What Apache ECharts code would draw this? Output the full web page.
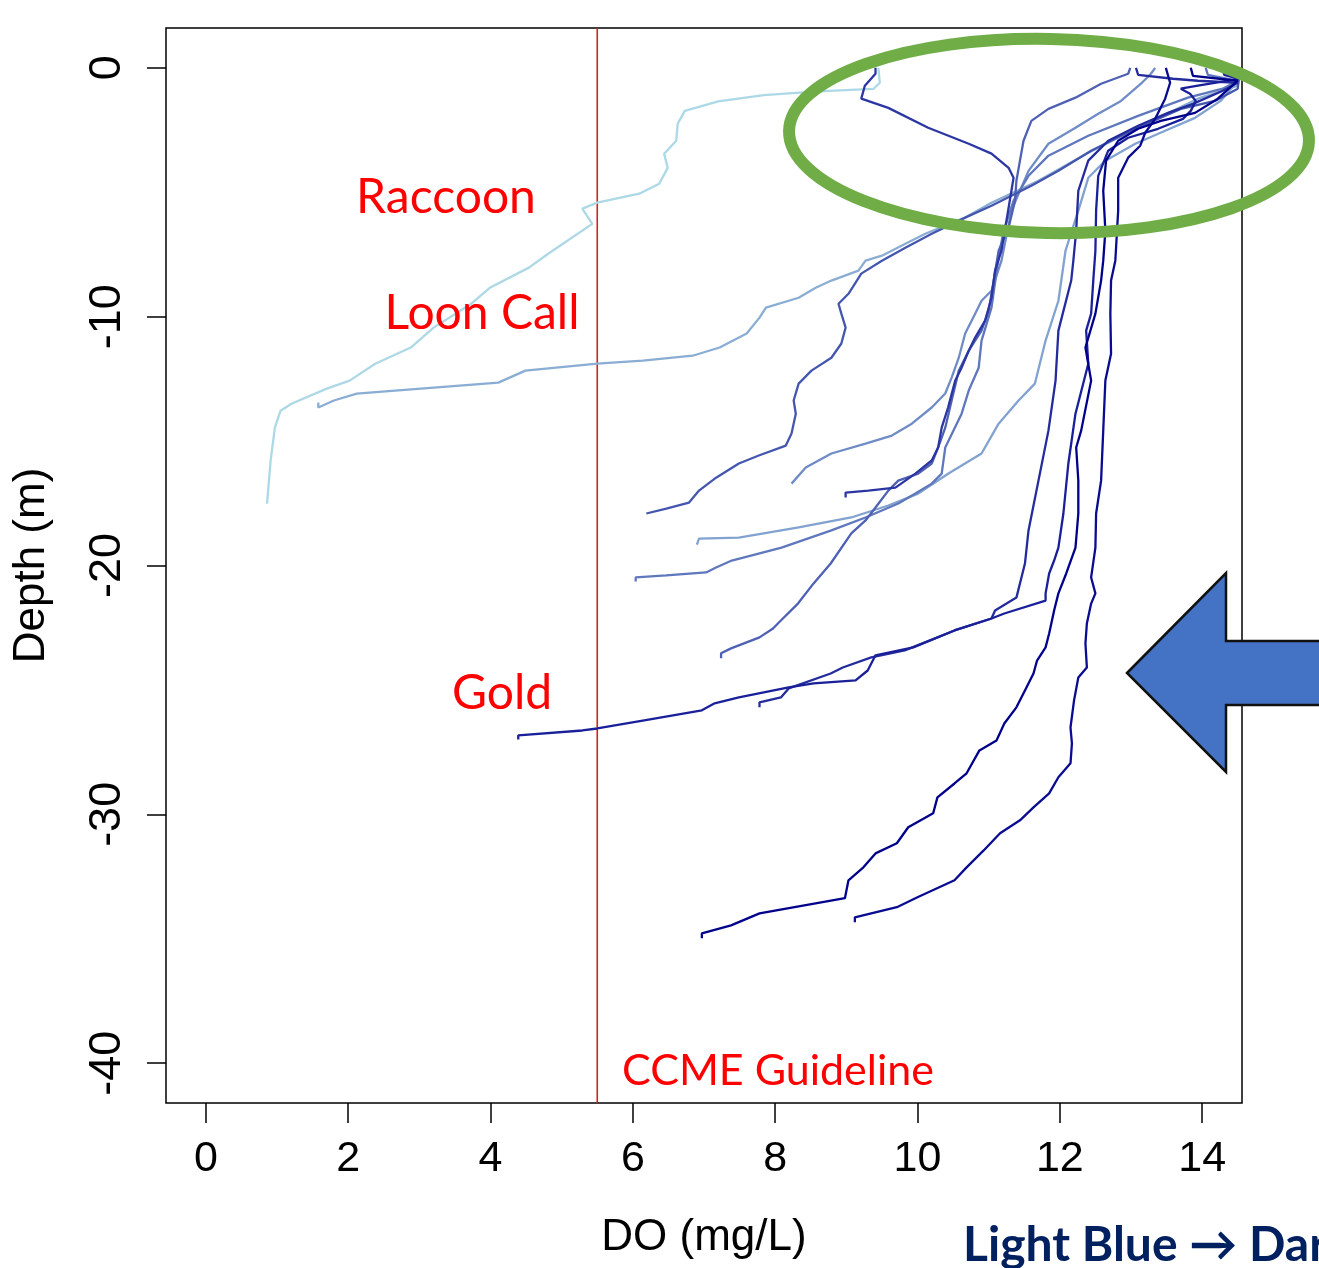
<!DOCTYPE html>
<html><head><meta charset="utf-8">
<script src="https://cdn.jsdelivr.net/npm/echarts@6/dist/echarts.min.js"></script>
<style>html,body{margin:0;padding:0;background:#fff;overflow:hidden}#c{width:1319px;height:1268px}</style>
</head><body><div id="c"></div>
<script>
// ---- data ----
const xTicks = [0, 2, 4, 6, 8, 10, 12, 14];
const yTicks = [0, -10, -20, -30, -40];
const xRange = [-0.56, 14.56];
const yRange = [-41.6, 1.6];
const guidelineDO = 5.5;

// DO (mg/L), depth (m) pairs, surface first
const raccoon = [[9.45,0],[9.47,-0.6],[9.38,-0.85],[8.6,-0.95],[7.84,-1.1],[7.2,-1.35],[6.73,-1.73],[6.63,-2.25],[6.61,-2.93],[6.44,-3.45],[6.49,-4.02],[6.37,-4.66],[6.09,-5.06],[5.5,-5.42],[5.29,-5.66],[5.43,-6.27],[5.08,-6.95],[4.81,-7.47],[4.54,-8.03],[3.99,-8.84],[3.73,-9.48],[3.2,-10.44],[2.88,-11.24],[2.38,-11.89],[2.02,-12.57],[1.7,-12.89],[1.21,-13.49],[1.05,-13.78],[0.97,-14.46],[0.91,-15.78],[0.86,-17.51]];
const loonCall = [[14.45,0],[14.52,-0.3],[14.5,-0.72],[13.94,-1.24],[13.24,-2.21],[12.4,-3.41],[11.7,-4.54],[11.04,-5.42],[10.67,-6.02],[10.11,-6.67],[9.83,-7.07],[9.5,-7.55],[9.27,-7.75],[9.17,-8.15],[8.79,-8.55],[8.57,-8.84],[8.33,-9.24],[7.87,-9.64],[7.78,-10.04],[7.6,-10.68],[7.22,-11.24],[6.84,-11.57],[6.14,-11.77],[5.5,-11.89],[4.49,-12.17],[4.11,-12.65],[2.66,-12.97],[2.12,-13.09],[1.8,-13.37],[1.58,-13.65],[1.58,-13.45]];
const lakeF = [[14.47,0],[14.5,-0.52],[14.26,-1.33],[13.9,-2.01],[13.48,-2.53],[13.06,-3.05],[12.64,-3.73],[12.4,-4.42],[12.26,-5.74],[12.08,-7.35],[11.98,-9.36],[11.8,-10.96],[11.65,-12.69],[11.42,-13.37],[11.14,-14.3],[10.9,-15.5],[10.43,-16.31],[10.01,-17.11],[9.59,-17.59],[9.07,-18.07],[8.33,-18.47],[7.49,-18.88],[6.93,-18.92],[6.9,-19.16]];
const lakeE = [[13.34,0],[13.28,-0.24],[13.14,-0.64],[12.86,-1.33],[12.54,-1.85],[12.22,-2.41],[11.84,-3.05],[11.56,-4.14],[11.32,-5.74],[11.18,-7.75],[11.04,-8.96],[10.9,-9.36],[10.81,-9.88],[10.67,-10.68],[10.58,-11.65],[10.48,-12.45],[10.39,-13.09],[10.2,-13.65],[9.92,-14.3],[9.64,-14.78],[9.27,-15.1],[8.79,-15.5],[8.43,-16.06],[8.23,-16.71]];
const lakeG = [[14.05,0],[14.08,-0.28],[14.5,-0.52],[14.29,-0.84],[13.8,-1.2],[13.1,-1.93],[12.4,-2.73],[11.84,-3.53],[11.56,-4.34],[11.35,-5.34],[11.21,-6.55],[11.14,-7.63],[11.04,-9.64],[10.9,-10.96],[10.86,-12.05],[10.72,-12.97],[10.62,-13.9],[10.39,-15.26],[10.34,-16.31],[10.2,-16.71],[9.97,-17.11],[9.73,-17.51],[9.27,-18.07],[8.79,-18.59],[8.09,-19.28],[7.39,-19.8],[7.17,-20.08],[7.03,-20.28],[6.47,-20.4],[6.04,-20.48],[6.04,-20.64]];
const lakeH = [[12.99,0],[12.96,-0.24],[12.58,-0.64],[12.22,-1.2],[11.84,-1.65],[11.6,-2.13],[11.49,-2.93],[11.44,-3.73],[11.39,-4.54],[11.37,-5.34],[11.28,-6.43],[11.14,-7.35],[11.07,-8.55],[11.0,-9.76],[10.9,-10.56],[10.72,-11.37],[10.58,-12.17],[10.48,-13.37],[10.39,-14.46],[10.29,-15.26],[10.2,-15.9],[10.01,-16.31],[9.73,-16.59],[9.59,-16.99],[9.41,-17.67],[9.27,-18.19],[9.07,-18.71],[8.78,-19.92],[8.54,-20.72],[8.32,-21.53],[8.08,-22.21],[7.97,-22.53],[7.78,-22.89],[7.38,-23.33],[7.24,-23.53],[7.24,-23.73]];
const lakeC = [[14.32,0],[14.32,-0.2],[14.52,-0.32],[14.5,-0.84],[14.18,-1.33],[13.7,-1.65],[13.0,-2.53],[12.44,-3.33],[11.98,-4.14],[11.6,-4.74],[11.04,-5.54],[10.67,-6.02],[10.2,-6.67],[9.83,-7.23],[9.5,-7.75],[9.21,-8.27],[9.03,-9.08],[8.89,-9.48],[8.93,-9.88],[8.99,-10.44],[8.93,-11.08],[8.79,-11.65],[8.51,-12.17],[8.33,-12.69],[8.26,-13.37],[8.29,-13.9],[8.23,-14.7],[8.15,-15.18],[7.77,-15.58],[7.49,-15.9],[7.17,-16.47],[6.93,-16.99],[6.79,-17.47],[6.47,-17.71],[6.19,-17.91]];
const lakeD = [[9.41,0],[9.41,-0.24],[9.26,-0.72],[9.21,-1.24],[9.59,-1.61],[10.15,-2.41],[10.72,-3.05],[11.04,-3.45],[11.28,-4.02],[11.35,-4.42],[11.32,-4.94],[11.25,-6.14],[11.18,-7.35],[11.09,-8.15],[11.04,-9.24],[10.95,-10.16],[10.81,-10.84],[10.72,-11.37],[10.62,-12.05],[10.53,-12.57],[10.43,-13.65],[10.34,-14.46],[10.29,-15.26],[10.2,-15.78],[9.97,-16.31],[9.69,-16.87],[9.31,-16.99],[8.99,-17.07],[8.99,-17.27]];
const lakeJ = [[13.07,0],[13.1,-0.28],[13.59,-0.44],[13.94,-0.52],[14.5,-0.6],[14.29,-0.92],[13.87,-1.45],[13.52,-1.81],[13.1,-2.33],[12.68,-2.93],[12.4,-3.73],[12.26,-4.94],[12.23,-6.55],[12.19,-7.75],[12.16,-8.55],[11.98,-10.56],[11.94,-12.57],[11.84,-14.58],[11.7,-16.59],[11.56,-18.59],[11.51,-19.92],[11.39,-21.29],[11.09,-21.81],[11.04,-22.13],[10.52,-22.61],[10.0,-23.21],[9.82,-23.41],[9.35,-23.69],[8.95,-24.1],[8.78,-24.34],[8.19,-24.94],[8.08,-25.3],[7.78,-25.5],[7.78,-25.7]];
const gold = [[14.29,0],[14.31,-0.28],[14.52,-0.44],[13.94,-0.72],[13.7,-0.84],[13.83,-1.04],[13.91,-1.33],[13.84,-1.73],[13.73,-2.05],[13.38,-2.45],[12.96,-2.81],[12.68,-3.33],[12.54,-4.34],[12.51,-5.74],[12.5,-7.35],[12.47,-8.55],[12.44,-9.88],[12.37,-10.56],[12.4,-11.89],[12.22,-13.9],[12.12,-15.9],[12.05,-17.91],[11.98,-19.28],[11.92,-19.8],[11.85,-20.32],[11.8,-21.12],[11.8,-21.41],[11.22,-21.93],[11.04,-22.13],[10.52,-22.61],[9.94,-23.29],[9.41,-23.61],[9.3,-24.22],[9.13,-24.62],[8.54,-24.74],[8.19,-24.9],[7.49,-25.3],[7.15,-25.54],[6.97,-25.82],[6.16,-26.22],[5.5,-26.55],[5.29,-26.63],[4.39,-26.83],[4.39,-26.99]];
const lakeL = [[13.49,0],[13.55,-0.6],[13.48,-1.24],[13.34,-2.05],[13.2,-2.61],[13.13,-3.13],[12.96,-3.61],[12.82,-4.42],[12.82,-5.74],[12.78,-7.75],[12.72,-8.55],[12.71,-9.88],[12.72,-11.49],[12.64,-12.57],[12.61,-14.58],[12.58,-16.59],[12.51,-17.91],[12.5,-19.28],[12.44,-20.48],[12.5,-21.12],[12.44,-21.53],[12.38,-22.33],[12.36,-23.13],[12.38,-24.1],[12.26,-24.5],[12.2,-25.42],[12.15,-26.51],[12.17,-27.15],[12.15,-27.95],[11.98,-28.51],[11.85,-29.16],[11.63,-29.72],[11.44,-30.24],[11.16,-30.76],[10.93,-31.45],[10.69,-32.13],[10.52,-32.65],[10.0,-33.33],[9.71,-33.73],[9.35,-33.98],[9.12,-34.14],[9.12,-34.34]];
const lakeK = [[13.84,0],[13.87,-0.32],[14.5,-0.52],[14.22,-1.24],[13.9,-1.81],[13.42,-2.13],[13.1,-2.45],[12.82,-2.93],[12.65,-3.73],[12.61,-4.94],[12.64,-6.55],[12.61,-7.75],[12.58,-8.55],[12.5,-9.88],[12.36,-11.24],[12.44,-12.57],[12.3,-14.58],[12.23,-15.26],[12.26,-16.59],[12.26,-17.91],[12.22,-19.28],[12.09,-20.32],[11.98,-21.12],[11.92,-21.81],[11.85,-22.73],[11.8,-23.29],[11.68,-23.82],[11.63,-24.34],[11.51,-25.02],[11.39,-25.7],[11.22,-26.35],[11.11,-27.03],[10.87,-27.43],[10.69,-28.35],[10.52,-28.76],[10.28,-29.32],[10.22,-29.96],[9.87,-30.52],[9.71,-31.16],[9.41,-31.57],[9.24,-32.13],[9.03,-32.65],[8.98,-33.37],[8.43,-33.65],[7.78,-33.98],[7.38,-34.46],[6.97,-34.78],[6.97,-34.98]];

const profileNames = ['Raccoon','Loon Call','Lake F','Lake E','Lake G','Lake H','Lake C','Lake D','Lake J','Gold','Lake L','Lake K'];
const profiles = [raccoon, loonCall, lakeF, lakeE, lakeG, lakeH, lakeC, lakeD, lakeJ, gold, lakeL, lakeK];
const profileColors = ['#ADD8E6','#8AADD4','#82A2CF','#708CC6','#5F77BD','#4E61B4','#4556AF','#2B36A2','#232B9D','#1A2099','#090B90','#00008B'];

const annotations = ['Raccoon','Loon Call','Gold','CCME Guideline'];
const footer = 'Light Blue \u2192 Dark Blue';

// ---- chart ----
const chart = echarts.init(document.getElementById('c'), null, {renderer:'canvas'});
const tickFont = 'Liberation Sans, Arial, sans-serif';
const series = profiles.map((d, i) => ({
  type: 'line', name: profileNames[i], data: d, showSymbol: false, symbol: 'none',
  lineStyle: { width: 2.3, color: profileColors[i] }, silent: true, z: 3 + i, animation: false
}));
series.unshift({
  type: 'line', name: 'CCME Guideline', data: [[guidelineDO, yRange[0]], [guidelineDO, yRange[1]]],
  showSymbol: false, symbol: 'none', lineStyle: { width: 1.6, color: '#d42020' }, silent: true, z: 2, animation: false
});

const redText = (txt, x, y, size) => ({
  type: 'text', x: x, y: y, z: 50,
  style: { text: txt, fill: '#ff0000', font: size + 'px Lato, "Open Sans", sans-serif', textAlign: 'center', textVerticalAlign: 'middle' }
});

chart.setOption({
  animation: false,
  backgroundColor: '#ffffff',
  grid: { left: 166, top: 28, width: 1076, height: 1075, show: true, borderColor: '#000', borderWidth: 1.5, backgroundColor: 'transparent' },
  xAxis: {
    type: 'value', min: xRange[0], max: xRange[1],
    name: 'DO (mg/L)', nameLocation: 'middle', nameGap: 113,
    nameTextStyle: { fontSize: 44, color: '#000', fontFamily: tickFont },
    axisLine: { show: false, onZero: false },
    axisTick: { show: true, length: 20, customValues: xTicks, lineStyle: { color: '#000', width: 1.5 } },
    axisLabel: { customValues: xTicks, fontSize: 43, color: '#000', fontFamily: tickFont, margin: 35 },
    splitLine: { show: false }
  },
  yAxis: {
    type: 'value', min: yRange[0], max: yRange[1],
    name: 'Depth (m)', nameLocation: 'middle', nameGap: 112, nameRotate: 90,
    nameTextStyle: { fontSize: 44, color: '#000', fontFamily: tickFont },
    axisLine: { show: false, onZero: false },
    axisTick: { show: true, length: 19, customValues: yTicks, lineStyle: { color: '#000', width: 1.5 } },
    axisLabel: { customValues: yTicks, fontSize: 45, color: '#000', fontFamily: tickFont, rotate: 90, margin: 36 },
    splitLine: { show: false }
  },
  series: series,
  graphic: [
    redText(annotations[0], 446, 198, 48),
    redText(annotations[1], 482, 314, 48),
    redText(annotations[2], 502, 694, 48),
    redText(annotations[3], 778, 1071, 43),
    { type: 'ellipse', x: 1049, y: 136, rotation: -0.02, z: 60, silent: true,
      shape: { cx: 0, cy: 0, rx: 260, ry: 97 },
      style: { fill: 'none', stroke: '#70AD47', lineWidth: 12 } },
    { type: 'polygon', z: 60, silent: true,
      shape: { points: [[1127,673],[1226,573],[1226,641],[1335,641],[1335,705],[1226,705],[1226,772]] },
      style: { fill: '#4472C4', stroke: '#111', lineWidth: 2.5 } },
    { type: 'text', x: 963, y: 1246, z: 60,
      style: { text: footer, fill: '#002060', font: 'bold 48px Lato, "Open Sans", sans-serif', textAlign: 'left', textVerticalAlign: 'middle' } }
  ]
});
</script></body></html>
